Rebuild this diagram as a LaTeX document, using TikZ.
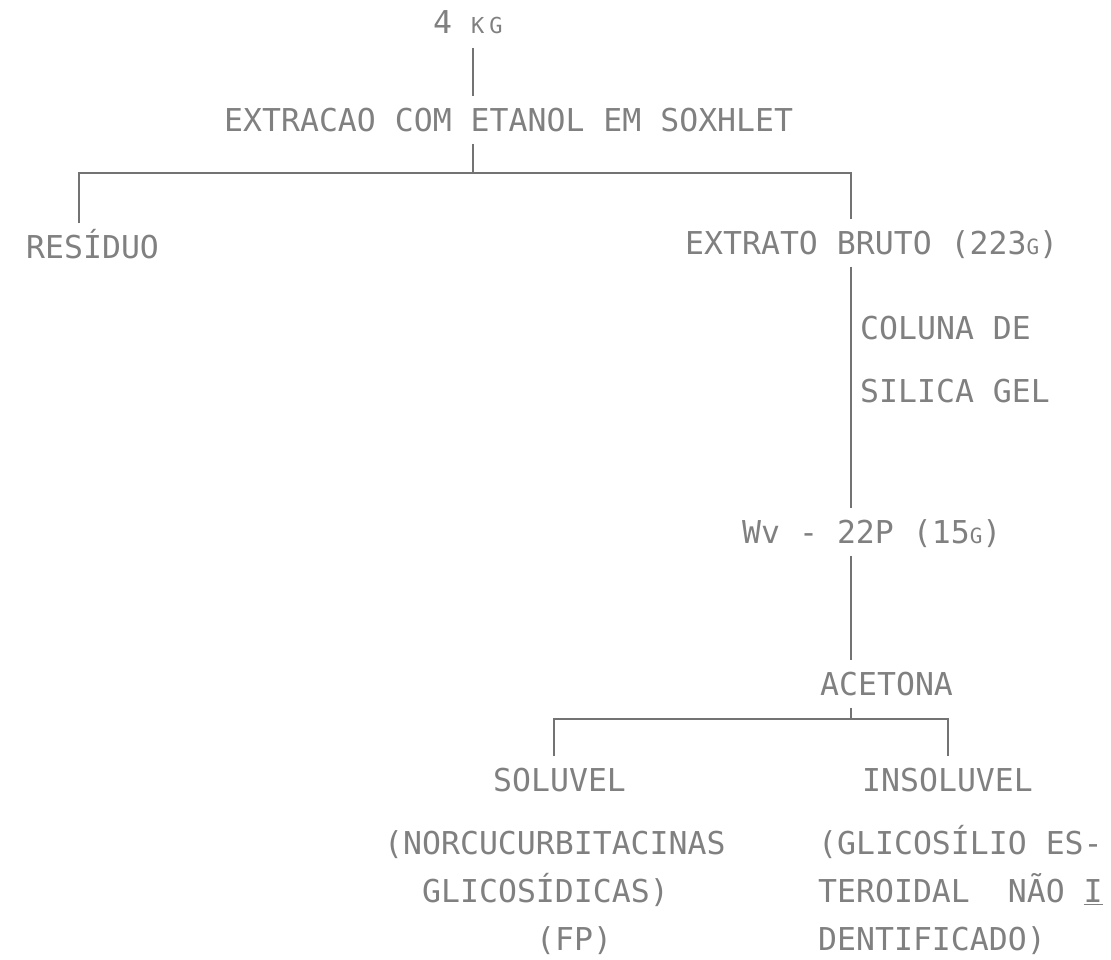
\documentclass[tikz,border=0pt]{standalone}
\usepackage{fontspec}
\setmainfont{DejaVu Sans Mono}
\usetikzlibrary{positioning,calc}
\definecolor{tinta}{gray}{0.45}
\definecolor{letra}{gray}{0.5}
\newcommand{\gmin}{{\fontsize{21}{21}\selectfont G}}
\tikzset{
  texto/.style={anchor=west,inner xsep=0pt,inner ysep=12pt,text height=23pt,text depth=0pt,
                text=letra,font=\fontsize{31.5}{31.5}\selectfont},
  linha/.style={draw=tinta,line width=1.4pt},
}
\begin{document}
\begin{tikzpicture}[x=1pt,y=-1pt]
  \useasboundingbox (0,0) rectangle (1111,959);
  % 1. extracao
  \node[texto,inner ysep=14pt] (kg) at (433,22) {4\ {\fontsize{22}{22}\selectfont K\kern5pt G}};
  \node[texto] (extr) at (224,120) {EXTRACAO COM ETANOL EM SOXHLET};
  \coordinate (t1) at (473,173);
  \coordinate (bL) at (79,173);
  \coordinate (bR) at (851,173);
  \draw[linha] (kg.south -| t1) -- (extr.north -| t1);
  \draw[linha] (extr.south -| t1) -- (t1);
  % 2. residuo / extrato bruto
  \node[texto] (res) at (26,247) {RESÍDUO};
  \node[texto] (bruto) at (685,243) {EXTRATO BRUTO (223\gmin)};
  \draw[linha] (bL |- res.north) -- (bL) -- (bR) -- (bR |- bruto.north);
  % 3. coluna
  \node[texto] (col1) at (860,328) {COLUNA DE};
  \node[texto] (col2) at (860,391) {SILICA GEL};
  \node[texto] (wv) at (742,532) {Wv - 22P (15\gmin)};
  \draw[linha] (bR |- bruto.south) -- (bR |- wv.north);
  % 4. acetona
  \node[texto] (acet) at (820,684) {ACETONA};
  \coordinate (cL) at (554,719);
  \coordinate (cR) at (948,719);
  \draw[linha] (bR |- wv.south) -- (bR |- acet.north);
  \draw[linha] (bR |- acet.south) -- (bR |- cL);
  \node[texto] (sol) at (493,780) {SOLUVEL};
  \node[texto] (insol) at (862,780) {INSOLUVEL};
  \draw[linha] (cL |- sol.north) -- (cL) -- (cR) -- (cR |- insol.north);
  % 5. fracoes
  \node[texto] (s1) at (384,843) {(NORCUCURBITACINAS};
  \node[texto] (s2) at (422,891) {GLICOSÍDICAS)};
  \node[texto] (s3) at (536,939) {(FP)};
  \node[texto] (i1) at (818,843) {(GLICOSÍLIO ES-};
  \node[texto] (i2) at (818,891) {TEROIDAL\ \ NÃO \underline{I}};
  \node[texto] (i3) at (818,939) {DENTIFICADO)};
\end{tikzpicture}
\end{document}
